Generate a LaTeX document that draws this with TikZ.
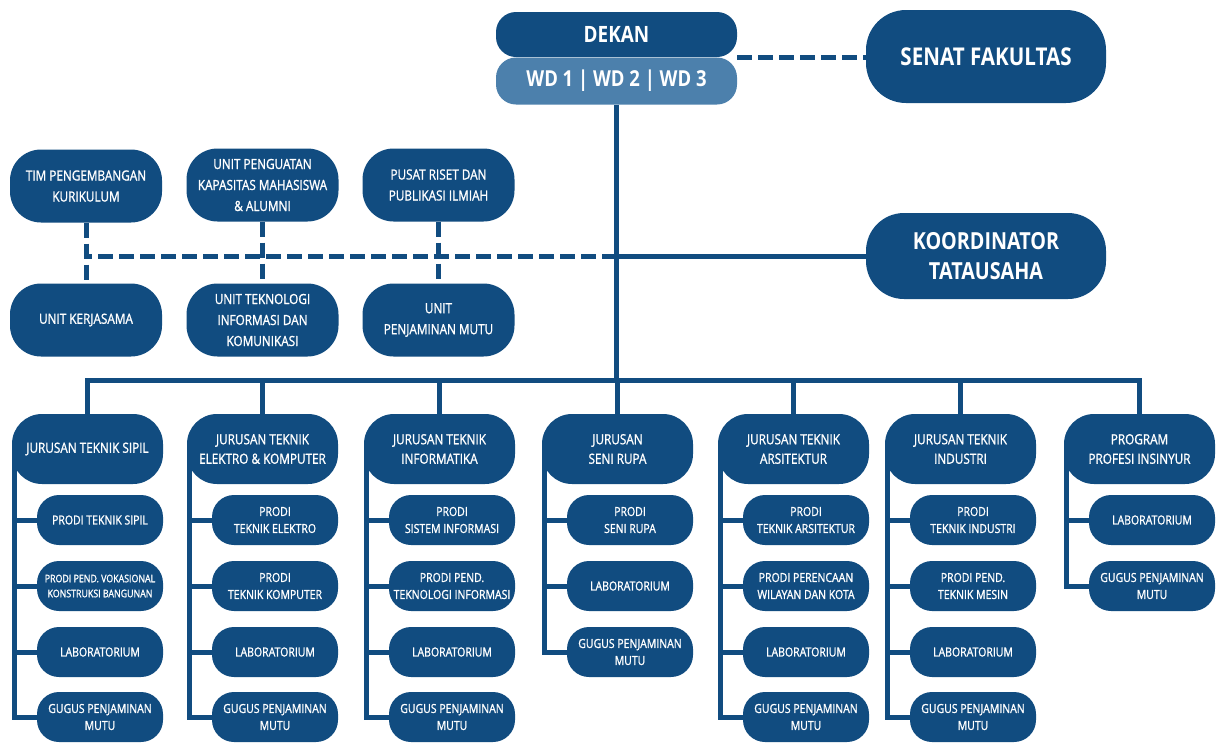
\documentclass[tikz,border=0pt]{standalone}
\usepackage{fontspec}
\setmainfont{Open Sans}[FakeStretch=0.84, UprightFeatures={FakeBold=1.2}]
\usetikzlibrary{calc}
\definecolor{navy}{RGB}{17,76,128}
\definecolor{lightb}{RGB}{76,128,172}
\pgfdeclarelayer{bg}\pgfsetlayers{bg,main}
\tikzset{
 pill/.style={fill=navy, text=white, align=center, inner sep=0pt, font=\fontsize{14}{19.5}\selectfont},
 jur/.style={pill, minimum width=151pt, minimum height=70pt, rounded corners=30pt},
 item/.style={pill, minimum width=126pt, minimum height=50pt, rounded corners=22pt, font=\fontsize{12.5}{17}\selectfont},
 unit/.style={pill, minimum width=152pt, minimum height=73pt, rounded corners=31pt, font=\fontsize{14}{21}\selectfont},
 big/.style={pill, minimum width=240pt, font=\bfseries\fontsize{23.5}{30}\selectfont},
 conn/.style={draw=navy, line width=5pt},
 dconn/.style={draw=navy, line width=5pt, dash pattern=on 15pt off 6pt},
}
\begin{document}
\begin{tikzpicture}[x=1pt,y=-1pt]
\useasboundingbox (0,0) rectangle (1220,742);
% top
\node[big, fill=lightb, minimum width=241pt, minimum height=47pt, rounded corners=20pt, font=\bfseries\fontsize{22}{26}\selectfont] (wd) at (616.5,81) {WD 1 | WD 2 | WD 3};
\node[big, minimum width=241pt, minimum height=45pt, rounded corners=20pt, font=\bfseries\fontsize{22.5}{26}\selectfont] (dekan) at (616.5,34.5) {DEKAN};
\node[big, minimum height=93pt, rounded corners=40pt, font=\bfseries\fontsize{24.5}{30}\selectfont] (senat) at (986,56.5) {SENAT FAKULTAS};
\node[big, minimum height=86pt, rounded corners=38pt] (koord) at (986,256) {KOORDINATOR\\TATAUSAHA};
% units
\node[unit] (tim) at (86,186) {TIM PENGEMBANGAN\\KURIKULUM};
\node[unit] (upk) at (262.5,185) {UNIT PENGUATAN\\KAPASITAS MAHASISWA\\\& ALUMNI};
\node[unit] (prp) at (438.5,185) {PUSAT RISET DAN\\PUBLIKASI ILMIAH};
\node[unit] (uk) at (86,320) {UNIT KERJASAMA};
\node[unit] (utik) at (262.5,320) {UNIT TEKNOLOGI\\INFORMASI DAN\\KOMUNIKASI};
\node[unit] (upm) at (438.5,320) {UNIT\\PENJAMINAN MUTU};
% jurusan
\node[jur] (j1) at (87.5,449) {JURUSAN TEKNIK SIPIL};
\node[jur] (j2) at (262.5,449) {JURUSAN TEKNIK\\ELEKTRO \& KOMPUTER};
\node[jur] (j3) at (439.5,449) {JURUSAN TEKNIK\\INFORMATIKA};
\node[jur] (j4) at (617.5,449) {JURUSAN\\SENI RUPA};
\node[jur] (j5) at (793.5,449) {JURUSAN TEKNIK\\ARSITEKTUR};
\node[jur] (j6) at (960.5,449) {JURUSAN TEKNIK\\INDUSTRI};
\node[jur] (j7) at (1139.5,449) {PROGRAM\\PROFESI INSINYUR};
% items
\node[item] (j1a) at (100,520) {PRODI TEKNIK SIPIL};
\node[item, font=\fontsize{10.5}{15}\selectfont] (j1b) at (100,586) {PRODI PEND. VOKASIONAL\\KONSTRUKSI BANGUNAN};
\node[item] (j1c) at (100,652) {LABORATORIUM};
\node[item] (j1d) at (100,717) {GUGUS PENJAMINAN\\MUTU};
\node[item] (j2a) at (275,520) {PRODI\\TEKNIK ELEKTRO};
\node[item] (j2b) at (275,586) {PRODI\\TEKNIK KOMPUTER};
\node[item] (j2c) at (275,652) {LABORATORIUM};
\node[item] (j2d) at (275,717) {GUGUS PENJAMINAN\\MUTU};
\node[item] (j3a) at (452,520) {PRODI\\SISTEM INFORMASI};
\node[item] (j3b) at (452,586) {PRODI PEND.\\TEKNOLOGI INFORMASI};
\node[item] (j3c) at (452,652) {LABORATORIUM};
\node[item] (j3d) at (452,717) {GUGUS PENJAMINAN\\MUTU};
\node[item] (j4a) at (630,520) {PRODI\\SENI RUPA};
\node[item] (j4b) at (630,586) {LABORATORIUM};
\node[item] (j4c) at (630,652) {GUGUS PENJAMINAN\\MUTU};
\node[item] (j5a) at (806,520) {PRODI\\TEKNIK ARSITEKTUR};
\node[item] (j5b) at (806,586) {PRODI PERENCAAN\\WILAYAN DAN KOTA};
\node[item] (j5c) at (806,652) {LABORATORIUM};
\node[item] (j5d) at (806,717) {GUGUS PENJAMINAN\\MUTU};
\node[item] (j6a) at (973,520) {PRODI\\TEKNIK INDUSTRI};
\node[item] (j6b) at (973,586) {PRODI PEND.\\TEKNIK MESIN};
\node[item] (j6c) at (973,652) {LABORATORIUM};
\node[item] (j6d) at (973,717) {GUGUS PENJAMINAN\\MUTU};
\node[item] (j7a) at (1152,520) {LABORATORIUM};
\node[item] (j7b) at (1152,586) {GUGUS PENJAMINAN\\MUTU};
% connectors
\coordinate (busy) at (0,380);
\coordinate (dashy) at (0,256);
\begin{pgfonlayer}{bg}
\path[dconn] (dekan.south east) -- (senat.west |- dekan.south east);
\path[conn] (wd.south) -- (wd.south |- busy);
\path[conn] (wd.south |- koord) -- (koord.west);
\path[dconn] (wd.south |- dashy) -- (tim.south |- dashy);
\path[dconn] (tim.south) -- (uk.north);
\path[dconn] (upk.south) -- (utik.north);
\path[dconn] (prp.south) -- (upm.north);
\path[conn] ([xshift=-2.5pt]j1.north |- busy) -- ([xshift=2.5pt]j7.north |- busy);
\foreach \j in {j1,j2,j3,j4,j5,j6,j7} {\path[conn] (\j.north |- busy) -- (\j.north);}
\foreach \j/\last/\others in {j1/j1d/{j1a,j1b,j1c}, j2/j2d/{j2a,j2b,j2c}, j3/j3d/{j3a,j3b,j3c}, j4/j4c/{j4a,j4b}, j5/j5d/{j5a,j5b,j5c}, j6/j6d/{j6a,j6b,j6c}, j7/j7b/{j7a}} {
  \coordinate (cx) at ($(\j.west)+(3,0)$);
  \path[conn] (cx) |- (\last.west);
  \foreach \o in \others {\path[conn] (\o.west) -- (\o.west -| cx);}
}
\end{pgfonlayer}
\end{tikzpicture}
\end{document}
